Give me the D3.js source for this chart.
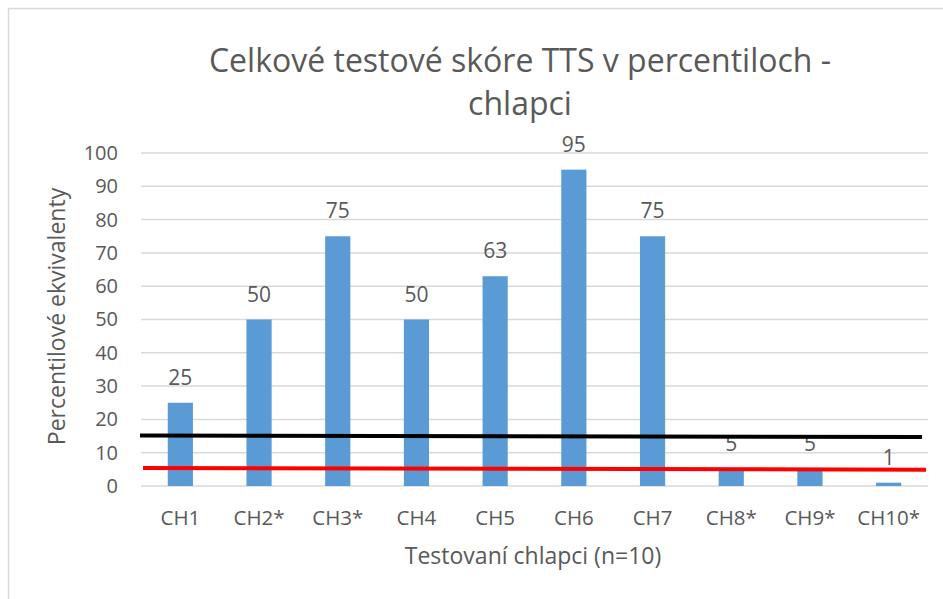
<!DOCTYPE html>
<html lang="sk">
<head>
  <meta charset="UTF-8">
  <title>TTS chlapci</title>
  <style>
    body { margin: 0; background: #fff; }
    text { font-family: "Open Sans", "Noto Sans", sans-serif; fill: #595959; }
    .grid line { stroke: #d9d9d9; stroke-width: 1.5; }
    .bar { fill: #5b9bd5; }
  </style>
</head>
<body>
  <div id="chart"></div>
  <script src="https://d3js.org/d3.v7.min.js"></script>
  <script>
    // data
    var categories = ['CH1', 'CH2*', 'CH3*', 'CH4', 'CH5', 'CH6', 'CH7', 'CH8*', 'CH9*', 'CH10*'];
    var values = [25, 50, 75, 50, 63, 95, 75, 5, 5, 1];
    var yTicks = [0, 10, 20, 30, 40, 50, 60, 70, 80, 90, 100];
    // hand drawn limit lines: value at left end, value at right end
    var limitStart = [15.2, 5.4];
    var limitEnd = [14.7, 4.9];
    var limitColors = ['#000000', '#ff0000'];

    var W = 943, H = 599;
    var m = { left: 141, right: 15, top: 153, bottom: 113 };

    var svg = d3.select('#chart').append('svg')
      .attr('width', W)
      .attr('height', H);

    // chart frame
    svg.append('rect')
      .attr('x', 8.5).attr('y', 8.5)
      .attr('width', W + 20).attr('height', H + 20)
      .attr('fill', 'none')
      .attr('stroke', '#d9d9d9')
      .attr('stroke-width', 1.5);

    var x = d3.scaleBand()
      .domain(categories)
      .range([m.left, W - m.right])
      .paddingInner(0.68)
      .paddingOuter(0.34);

    var y = d3.scaleLinear()
      .domain([0, 100])
      .range([H - m.bottom, m.top]);

    // gridlines
    svg.append('g')
      .attr('class', 'grid')
      .selectAll('line')
      .data(yTicks)
      .enter()
      .append('line')
      .attr('x1', m.left)
      .attr('x2', W - m.right)
      .attr('y1', function (d) { return y(d); })
      .attr('y2', function (d) { return y(d); });

    // y axis labels
    var yAxis = svg.append('g')
      .attr('transform', 'translate(' + (m.left - 23) + ',0)')
      .call(d3.axisLeft(y).tickValues(yTicks).tickSize(0).tickPadding(0));
    yAxis.select('.domain').remove();
    yAxis.selectAll('text')
      .style('font-size', '20px')
      .attr('fill', '#595959');

    // bars
    svg.selectAll('rect.bar')
      .data(values)
      .enter()
      .append('rect')
      .attr('class', 'bar')
      .attr('x', function (d, i) { return x(categories[i]); })
      .attr('width', x.bandwidth())
      .attr('y', function (d) { return y(d); })
      .attr('height', function (d) { return y(0) - y(d); });

    // value labels
    svg.selectAll('text.val')
      .data(values)
      .enter()
      .append('text')
      .attr('class', 'val')
      .attr('x', function (d, i) { return x(categories[i]) + x.bandwidth() / 2; })
      .attr('y', function (d) { return y(d) - 18; })
      .attr('text-anchor', 'middle')
      .style('font-size', '21px')
      .text(function (d) { return d; });

    // x axis labels
    var xAxis = svg.append('g')
      .attr('transform', 'translate(0,' + (y(0) + 24) + ')')
      .call(d3.axisBottom(x).tickSize(0).tickPadding(0));
    xAxis.select('.domain').remove();
    xAxis.selectAll('text')
      .style('font-size', '20.5px')
      .attr('fill', '#595959');

    // limit lines
    var x0 = x.range()[0], x1 = x.range()[1];
    svg.selectAll('line.limit')
      .data(limitStart)
      .enter()
      .append('line')
      .attr('class', 'limit')
      .attr('x1', function (d, i) { return x0 + (i ? 2 : -1); })
      .attr('x2', function (d, i) { return x1 - (i ? 2 : 6); })
      .attr('y1', function (d) { return y(d); })
      .attr('y2', function (d, i) { return y(limitEnd[i]); })
      .attr('stroke', function (d, i) { return limitColors[i]; })
      .attr('stroke-width', 4);

    // titles
    svg.append('text')
      .attr('x', 520).attr('y', 72)
      .attr('text-anchor', 'middle')
      .style('font-size', '32px')
      .text('Celkové testové skóre TTS v percentiloch -');
    svg.append('text')
      .attr('x', 520).attr('y', 115)
      .attr('text-anchor', 'middle')
      .style('font-size', '32px')
      .text('chlapci');

    svg.append('text')
      .attr('x', 533).attr('y', 564)
      .attr('text-anchor', 'middle')
      .style('font-size', '23px')
      .text('Testovaní chlapci (n=10)');

    svg.append('text')
      .attr('transform', 'translate(65,' + (y(50) - 3) + ') rotate(-90)')
      .attr('text-anchor', 'middle')
      .style('font-size', '23px')
      .text('Percentilové ekvivalenty');
  </script>
</body>
</html>
